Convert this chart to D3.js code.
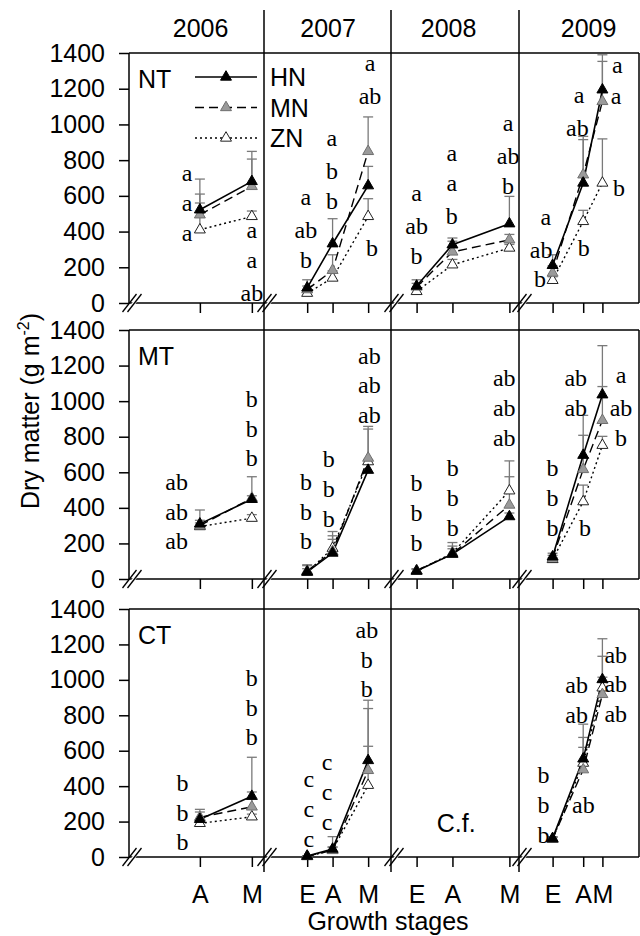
<!DOCTYPE html>
<html>
<head>
<meta charset="utf-8">
<script src="https://cdn.jsdelivr.net/npm/d3@7"></script>
<style>
  body { margin: 0; background: #fff; }
  svg { display: block; }
</style>
</head>
<body>
<svg id="chart" width="640" height="936"></svg>
<script>
// ---------------- data ----------------
const years = ["2006", "2007", "2008", "2009"];
const tillage = ["NT", "MT", "CT"];
const series = ["HN", "MN", "ZN"];
const stageOrder = ["E", "A", "M"];
const yTicks = [0, 200, 400, 600, 800, 1000, 1200, 1400];

// timing of the growth stages within each season (% of season)
const stageTiming = {
  "2006": { A: 52.5, M: 91 },
  "2007": { E: 34, A: 54, M: 82 },
  "2008": { E: 20, A: 48, M: 92.5 },
  "2009": { E: 28, A: 53.5, M: 69.5 }
};

// mean dry matter (g m-2): tillage, year, stage, HN, MN, ZN
const dryMatterMean = [
  ["NT", "2006", "A", 522, 494, 410],
  ["NT", "2006", "M", 681, 653, 485],
  ["NT", "2007", "E", 85, 75, 55],
  ["NT", "2007", "A", 332, 183, 140],
  ["NT", "2007", "M", 657, 849, 485],
  ["NT", "2008", "E", 95, 90, 65],
  ["NT", "2008", "A", 326, 286, 214],
  ["NT", "2008", "M", 444, 354, 308],
  ["NT", "2009", "E", 211, 168, 127],
  ["NT", "2009", "A", 672, 718, 457],
  ["NT", "2009", "M", 1194, 1129, 672],
  ["MT", "2006", "A", 310, 300, 295],
  ["MT", "2006", "M", 448, 455, 342],
  ["MT", "2007", "E", 40, 45, 38],
  ["MT", "2007", "A", 146, 155, 173],
  ["MT", "2007", "M", 612, 680, 660],
  ["MT", "2008", "E", 45, 48, 45],
  ["MT", "2008", "A", 140, 140, 145],
  ["MT", "2008", "M", 351, 416, 496],
  ["MT", "2009", "E", 125, 118, 110],
  ["MT", "2009", "A", 696, 616, 435],
  ["MT", "2009", "M", 1036, 892, 752],
  ["CT", "2006", "A", 213, 224, 190],
  ["CT", "2006", "M", 343, 283, 227],
  ["CT", "2007", "E", 5, 5, 3],
  ["CT", "2007", "A", 45, 37, 40],
  ["CT", "2007", "M", 545, 489, 405],
  ["CT", "2009", "E", 105, 103, 100],
  ["CT", "2009", "A", 554, 493, 530],
  ["CT", "2009", "M", 1002, 918, 955]
];

// standard errors (g m-2): tillage, year, stage, HN, MN, ZN
const dryMatterSE = [
  ["NT", "2006", "A", 88, 200, 150],
  ["NT", "2006", "M", 125, 196, 30],
  ["NT", "2007", "E", 45, 20, 15],
  ["NT", "2007", "A", 140, 87, 40],
  ["NT", "2007", "M", 108, 193, 99],
  ["NT", "2008", "E", 35, 20, 15],
  ["NT", "2008", "A", 38, 60, 30],
  ["NT", "2008", "M", 153, 30, 20],
  ["NT", "2009", "E", 59, 40, 20],
  ["NT", "2009", "A", 243, 215, 62],
  ["NT", "2009", "M", 159, 261, 247],
  ["MT", "2006", "A", 78, 30, 20],
  ["MT", "2006", "M", 20, 120, 20],
  ["MT", "2007", "E", 40, 30, 20],
  ["MT", "2007", "A", 97, 112, 50],
  ["MT", "2007", "M", 60, 178, 183],
  ["MT", "2008", "E", 10, 10, 10],
  ["MT", "2008", "A", 30, 65, 40],
  ["MT", "2008", "M", 20, 159, 168],
  ["MT", "2009", "E", 20, 15, 10],
  ["MT", "2009", "A", 224, 192, 93],
  ["MT", "2009", "M", 46, 420, 50],
  ["CT", "2006", "A", 56, 30, 20],
  ["CT", "2006", "M", 24, 280, 15],
  ["CT", "2007", "E", 2, 2, 2],
  ["CT", "2007", "A", 70, 20, 15],
  ["CT", "2007", "M", 80, 396, 433],
  ["CT", "2009", "E", 10, 10, 10],
  ["CT", "2009", "A", 196, 126, 145],
  ["CT", "2009", "M", 230, 97, 178]
];

// significance letters: tillage, year, x (% of season), y (g m-2), text
const letters = [
  ["NT", "2006", 43, 713, "a"], ["NT", "2006", 43, 545, "a"], ["NT", "2006", 43, 377, "a"],
  ["NT", "2006", 91, 393, "a"], ["NT", "2006", 91, 225, "a"], ["NT", "2006", 91, 57, "ab"],
  ["NT", "2007", 33, 578, "a"], ["NT", "2007", 33, 410, "ab"], ["NT", "2007", 33, 242, "b"],
  ["NT", "2007", 53.5, 905, "a"], ["NT", "2007", 53.5, 737, "b"], ["NT", "2007", 53.5, 569, "b"],
  ["NT", "2007", 83.5, 1325, "a"], ["NT", "2007", 83.5, 1157, "ab"], ["NT", "2007", 85, 310, "b"],
  ["NT", "2008", 20, 597, "a"], ["NT", "2008", 20, 429, "ab"], ["NT", "2008", 20, 261, "b"],
  ["NT", "2008", 47.5, 821, "a"], ["NT", "2008", 47.5, 653, "a"], ["NT", "2008", 47.5, 485, "b"],
  ["NT", "2008", 91.5, 993, "a"], ["NT", "2008", 91.5, 825, "ab"], ["NT", "2008", 91.5, 657, "b"],
  ["NT", "2009", 22.3, 466, "a"], ["NT", "2009", 18.5, 298, "ab"], ["NT", "2009", 17.5, 134, "b"],
  ["NT", "2009", 50, 1148, "a"], ["NT", "2009", 48.7, 980, "ab"], ["NT", "2009", 54, 308, "b"],
  ["NT", "2009", 82, 1316, "a"], ["NT", "2009", 81, 1142, "a"], ["NT", "2009", 83.3, 644, "b"],
  ["MT", "2006", 35.3, 547, "ab"], ["MT", "2006", 35.3, 379, "ab"], ["MT", "2006", 35.3, 211, "ab"],
  ["MT", "2006", 91, 1014, "b"], ["MT", "2006", 91, 846, "b"], ["MT", "2006", 91, 678, "b"],
  ["MT", "2007", 33, 547, "b"], ["MT", "2007", 33, 379, "b"], ["MT", "2007", 33, 211, "b"],
  ["MT", "2007", 51, 672, "b"], ["MT", "2007", 51, 504, "b"], ["MT", "2007", 51, 336, "b"],
  ["MT", "2007", 83, 1256, "ab"], ["MT", "2007", 83, 1088, "ab"], ["MT", "2007", 83, 920, "ab"],
  ["MT", "2008", 20, 541, "b"], ["MT", "2008", 20, 373, "b"], ["MT", "2008", 20, 205, "b"],
  ["MT", "2008", 48.2, 622, "b"], ["MT", "2008", 48.2, 454, "b"], ["MT", "2008", 48.2, 286, "b"],
  ["MT", "2008", 88.5, 1131, "ab"], ["MT", "2008", 88.5, 963, "ab"], ["MT", "2008", 88.5, 795, "ab"],
  ["MT", "2009", 28, 622, "b"], ["MT", "2009", 28, 454, "b"], ["MT", "2009", 28, 286, "b"],
  ["MT", "2009", 47.3, 1131, "ab"], ["MT", "2009", 47.3, 963, "ab"], ["MT", "2009", 55, 286, "b"],
  ["MT", "2009", 85, 1131, "a"], ["MT", "2009", 85, 963, "ab"], ["MT", "2009", 85, 795, "b"],
  ["CT", "2006", 39.6, 418, "b"], ["CT", "2006", 39.6, 250, "b"], ["CT", "2006", 39.6, 82, "b"],
  ["CT", "2006", 91, 1011, "b"], ["CT", "2006", 91, 843, "b"], ["CT", "2006", 91, 675, "b"],
  ["CT", "2007", 35.2, 423, "c"], ["CT", "2007", 35.2, 255, "c"], ["CT", "2007", 35.2, 87, "c"],
  ["CT", "2007", 49.6, 522, "c"], ["CT", "2007", 49.6, 349, "c"], ["CT", "2007", 49.6, 181, "c"],
  ["CT", "2007", 81, 1282, "ab"], ["CT", "2007", 81, 1114, "b"], ["CT", "2007", 81, 946, "b"],
  ["CT", "2009", 20.5, 461, "b"], ["CT", "2009", 20.5, 293, "b"], ["CT", "2009", 20.5, 126, "b"],
  ["CT", "2009", 48, 970, "ab"], ["CT", "2009", 48, 802, "ab"], ["CT", "2009", 53.6, 293, "ab"],
  ["CT", "2009", 80.6, 1142, "ab"], ["CT", "2009", 80.6, 974, "ab"], ["CT", "2009", 80.6, 806, "ab"]
];

// panels without a crop
const notes = [["CT", "2008", 51, 190, "C.f."]];

// ---------------- layout ----------------
const sans = "'Liberation Sans', Arial, sans-serif";
const serif = "'Liberation Serif', 'Times New Roman', serif";
const panelEdges = [129, 264, 391, 519, 639];
const rowTop = [53, 330, 609];
const rowBottom = [303, 579, 857];
const yearLabelAt = [53, 50.5, 45, 58]; // % of season
const style = {
  HN: { fill: "#000", stroke: "#000", dash: null, width: 1.6 },
  MN: { fill: "#9a9a9a", stroke: "#6f6f6f", dash: "9,5", width: 1.4 },
  ZN: { fill: "#fff", stroke: "#222", dash: "2,3", width: 1.4 }
};
const whiskerColor = "#7a7a7a";

const svg = d3.select("#chart");
const tri = d3.symbol().type(d3.symbolTriangle).size(52);

const xScales = years.map((y, i) =>
  d3.scaleLinear().domain([0, 100]).range([panelEdges[i], panelEdges[i + 1]]));
const yScales = tillage.map((t, r) =>
  d3.scaleLinear().domain([0, 1400]).range([rowBottom[r], rowTop[r]]));

const meanRows = dryMatterMean.map(d => ({ till: d[0], year: d[1], stage: d[2], v: { HN: d[3], MN: d[4], ZN: d[5] } }));
const seRows = dryMatterSE.map(d => ({ till: d[0], year: d[1], stage: d[2], v: { HN: d[3], MN: d[4], ZN: d[5] } }));

tillage.forEach((till, r) => {
  const ys = yScales[r];
  const g = svg.append("g");

  // frame of the row
  g.append("line").attr("x1", panelEdges[0]).attr("x2", panelEdges[4])
    .attr("y1", rowTop[r]).attr("y2", rowTop[r]).attr("stroke", "#000").attr("stroke-width", 1.5);
  g.append("line").attr("x1", panelEdges[0]).attr("x2", panelEdges[4])
    .attr("y1", rowBottom[r]).attr("y2", rowBottom[r]).attr("stroke", "#000").attr("stroke-width", 1.5);
  g.append("line").attr("x1", panelEdges[0]).attr("x2", panelEdges[0])
    .attr("y1", rowTop[r]).attr("y2", rowBottom[r]).attr("stroke", "#000").attr("stroke-width", 1.5);
  g.append("line").attr("x1", panelEdges[4]).attr("x2", panelEdges[4])
    .attr("y1", rowTop[r]).attr("y2", rowBottom[r]).attr("stroke", "#000").attr("stroke-width", 1.5);

  // y axis
  const yAxis = g.append("g").attr("transform", `translate(${panelEdges[0]},0)`)
    .call(d3.axisLeft(ys).tickValues(yTicks).tickSize(10).tickPadding(14).tickFormat(d3.format("d")));
  yAxis.select(".domain").remove();
  yAxis.selectAll("line").attr("stroke", "#000").attr("stroke-width", 1.5);
  yAxis.selectAll("text").attr("font-family", sans).attr("font-size", 25).attr("fill", "#000");

  // stage ticks under each panel
  years.forEach((yr, p) => {
    const xs = xScales[p];
    const stages = stageOrder.filter(s => stageTiming[yr][s] !== undefined);
    const ax = g.append("g").attr("transform", `translate(0,${rowBottom[r]})`)
      .call(d3.axisBottom(xs).tickValues(stages.map(s => stageTiming[yr][s]))
        .tickSize(10).tickPadding(18)
        .tickFormat((v, i) => r === tillage.length - 1 ? stages[i] : ""));
    ax.select(".domain").remove();
    ax.selectAll("line").attr("stroke", "#000").attr("stroke-width", 1.5);
    ax.selectAll("text").attr("font-family", sans).attr("font-size", 25).attr("fill", "#000");

    // axis break marks at the panel's left corner
    const bx = panelEdges[p] + 5, by = rowBottom[r];
    g.append("polygon")
      .attr("points", `${bx - 9},${by + 9} ${bx - 5},${by + 9} ${bx + 9},${by - 9} ${bx + 5},${by - 9}`)
      .attr("fill", "#fff");
    [-2.5, 2.5].forEach(o => {
      g.append("line").attr("x1", bx - 9 + o).attr("y1", by + 9)
        .attr("x2", bx + 5 + o).attr("y2", by - 9)
        .attr("stroke", "#000").attr("stroke-width", 1.3);
    });
  });

  // data per panel
  years.forEach((yr, p) => {
    const xs = xScales[p];
    const pm = meanRows.filter(d => d.till === till && d.year === yr);
    const ps = seRows.filter(d => d.till === till && d.year === yr);
    if (!pm.length) return;
    const xOf = d => xs(stageTiming[yr][d.stage]);

    // upper error whiskers
    series.forEach(s => {
      pm.forEach(d => {
        const e = ps.find(q => q.stage === d.stage).v[s];
        const x = xOf(d), y0 = ys(d.v[s]), y1 = ys(d.v[s] + e);
        g.append("line").attr("x1", x).attr("x2", x).attr("y1", y0).attr("y2", y1)
          .attr("stroke", whiskerColor).attr("stroke-width", 1.3);
        g.append("line").attr("x1", x - 5).attr("x2", x + 5).attr("y1", y1).attr("y2", y1)
          .attr("stroke", whiskerColor).attr("stroke-width", 1.3);
      });
    });

    // treatment lines
    ["ZN", "MN", "HN"].forEach(s => {
      const line = d3.line().x(xOf).y(d => ys(d.v[s]));
      g.append("path").attr("d", line(pm)).attr("fill", "none")
        .attr("stroke", "#000").attr("stroke-width", style[s].width)
        .attr("stroke-dasharray", style[s].dash);
    });

    // markers
    ["ZN", "MN", "HN"].forEach(s => {
      pm.forEach(d => {
        g.append("path").attr("d", tri())
          .attr("transform", `translate(${xOf(d)},${ys(d.v[s])})`)
          .attr("fill", style[s].fill).attr("stroke", style[s].stroke).attr("stroke-width", 1);
      });
    });
  });

  // significance letters
  letters.filter(d => d[0] === till).forEach(d => {
    const p = years.indexOf(d[1]);
    const yc = ys(d[3]);
    g.append("text").attr("x", xScales[p](d[2])).attr("y", yc + (d[4].includes("b") ? 8 : 5))
      .attr("text-anchor", "middle").attr("font-family", serif).attr("font-size", 24)
      .attr("fill", "#000").text(d[4]);
  });

  notes.filter(d => d[0] === till).forEach(d => {
    const p = years.indexOf(d[1]);
    g.append("text").attr("x", xScales[p](d[2])).attr("y", ys(d[3]) + 9)
      .attr("text-anchor", "middle").attr("font-family", sans).attr("font-size", 25)
      .attr("fill", "#000").text(d[4]);
  });

  // tillage label
  g.append("text").attr("x", panelEdges[0] + 9).attr("y", rowTop[r] + 35)
    .attr("font-family", sans).attr("font-size", 25).attr("fill", "#000").text(till);
});

// year dividers running through all rows
[1, 2, 3].forEach(i => {
  svg.append("line").attr("x1", panelEdges[i]).attr("x2", panelEdges[i])
    .attr("y1", 10).attr("y2", 872).attr("stroke", "#000").attr("stroke-width", 1.5);
});

// year headings
years.forEach((yr, p) => {
  svg.append("text").attr("x", xScales[p](yearLabelAt[p])).attr("y", 37)
    .attr("text-anchor", "middle").attr("font-family", sans).attr("font-size", 25)
    .attr("fill", "#000").text(yr);
});

// legend
const legend = svg.append("g");
["HN", "MN", "ZN"].forEach((s, i) => {
  const ly = 77 + i * 30.5;
  legend.append("line").attr("x1", 195).attr("x2", 257).attr("y1", ly).attr("y2", ly)
    .attr("stroke", "#000").attr("stroke-width", style[s].width)
    .attr("stroke-dasharray", style[s].dash);
  legend.append("path").attr("d", tri()).attr("transform", `translate(226,${ly})`)
    .attr("fill", style[s].fill).attr("stroke", style[s].stroke).attr("stroke-width", 1);
  legend.append("text").attr("x", 270).attr("y", ly + 9).attr("font-family", sans)
    .attr("font-size", 25).attr("fill", "#000").text(s);
});

// axis titles
svg.append("text").attr("x", (panelEdges[0] + panelEdges[4]) / 2 + 4).attr("y", 930)
  .attr("text-anchor", "middle").attr("font-family", sans).attr("font-size", 25)
  .attr("fill", "#000").text("Growth stages");

const yTitle = svg.append("text").attr("transform", "translate(39,411) rotate(-90)")
  .attr("text-anchor", "middle").attr("font-family", sans).attr("font-size", 25).attr("fill", "#000");
yTitle.append("tspan").text("Dry matter (g m");
yTitle.append("tspan").attr("dy", -10).attr("font-size", 16).text("-2");
yTitle.append("tspan").attr("dy", 10).text(")");
</script>
</body>
</html>
